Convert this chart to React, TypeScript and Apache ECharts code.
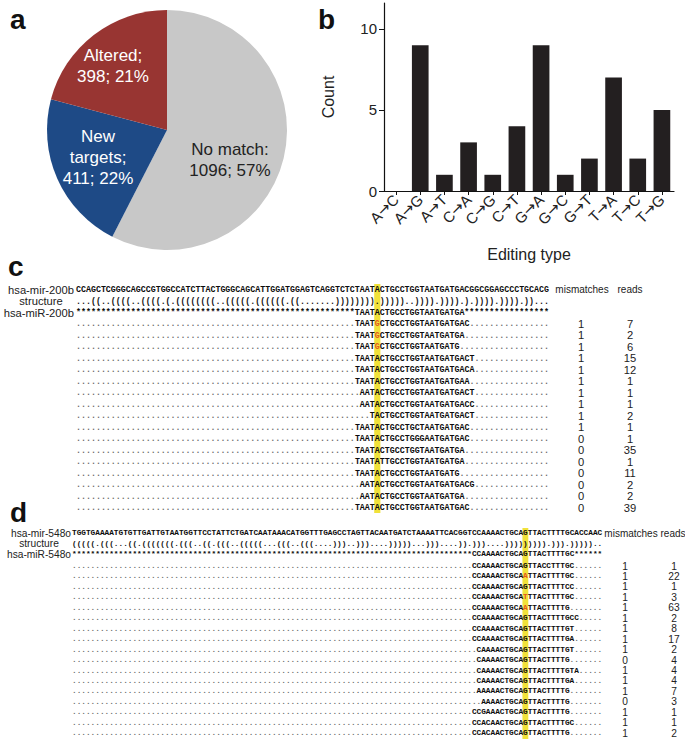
import React, { useEffect, useRef } from 'react';
import * as echarts from 'echarts';

// ---------- Panel a : pie ----------
const pieNames = ['No match', 'New targets', 'Altered'];
const pieValues = [1096, 411, 398];
const pieColors = ['#c8c8c8', '#1e4a86', '#983532'];
const pieLabelTexts = ['No match:\n1096; 57%', 'New\ntargets;\n411; 22%', 'Altered;\n398; 21%'];

// ---------- Panel b : bars ----------
const editTypes = ['A→C', 'A→G', 'A→T', 'C→A', 'C→G', 'C→T', 'G→A', 'G→C', 'G→T', 'T→A', 'T→C', 'T→G'];
const editCounts = [0, 9, 1, 3, 1, 4, 9, 1, 2, 7, 2, 5];
const countTicks = [0, 5, 10];

// ---------- Panel c : hsa-mir-200b ----------
const precursorC = 'CCAGCTCGGGCAGCCGTGGCCATCTTACTGGGCAGCATTGGATGGAGTCAGGTCTCTAATACTGCCTGGTAATGATGACGGCGGAGCCCTGCACG';
const structureC = '...((..((((..((((.(.((((((((..(((((.((((((.((.......)))))))).)))))..)))).)))).).)))).)))).))...';
const matureC = 'TAATACTGCCTGGTAATGATGA';
const matureStartC = 57;
const editColC = 61;
const readSeqsC = [
  'TAATGCTGCCTGGTAATGATGAC', 'TAATGCTGCCTGGTAATGATGA', 'TAATGCTGCCTGGTAATGATG',
  'TAATACTGCCTGGTAATGATGACT', 'TAATACTGCCTGGTAATGATGACA', 'TAATACTGCCTGGTAATGATGAA',
  'AATACTGCCTGGTAATGATGACT', 'AATACTGCCTGGTAATGATGACC', 'TACTGCCTGGTAATGATGACT',
  'TAATACTGCCTGCTAATGATGAC', 'TAATACTGCCTGGGAATGATGAC', 'TAATACTGCCTGGTAATGATGA',
  'TAATATTGCCTGGTAATGATGA', 'TAATACTGCCTGGTAATGATG', 'AATACTGCCTGGTAATGATGACG',
  'AATACTGCCTGGTAATGATGA', 'TAATACTGCCTGGTAATGATGAC',
];
const readStartsC = [57, 57, 57, 57, 57, 57, 58, 58, 60, 57, 57, 57, 57, 57, 58, 58, 57];
const mismatchesC = [1, 1, 1, 1, 1, 1, 1, 1, 1, 1, 0, 0, 0, 0, 0, 0, 0];
const readCountsC = [7, 2, 6, 15, 12, 1, 1, 1, 2, 1, 1, 35, 1, 11, 2, 2, 39];

// ---------- Panel d : hsa-mir-548o ----------
const precursorD = 'TGGTGAAAATGTGTTGATTGTAATGGTTCCTATTCTGATCAATAAACATGGTTTGAGCCTAGTTACAATGATCTAAAATTCACGGTCCAAAACTGCAGTTACTTTTGCACCAAC';
const structureD = '(((((.(((...((.(((((((.(((..((.(((..(((((...(((..(((....)))..)))....)))))...)))....)).)))....))))))))).))).)))))..';
const matureD = 'CCAAAACTGCAGTTACTTTTGC';
const matureStartD = 87;
const editColD = 98;
const readSeqsD = [
  'CCAAAACTGCAGTTACCTTTGC', 'CCAAAACTGCAATTACTTTTGC', 'CCAAAACTGCAGTTACTTTTCC',
  'CCAAAACTGCATTTACTTTTGC', 'CCAAAACTGCAATTACTTTTG', 'CCAAAACTGCAGTTACTTTTGCC',
  'CCAAAACTGCAGTTACTTTTGT', 'CCAAAACTGCAGTTACTTTTGA', 'CAAAACTGCAGTTACTTTTGT',
  'CAAAACTGCAGTTACTTTTG', 'CAAAACTGCAGTTACTTTTGTA', 'CAAAACTGCAGTTACTTTTGA',
  'AAAAACTGCAGTTACTTTTG', 'AAAACTGCAGTTACTTTTG', 'CCGAAACTGCAGTTACTTTTG',
  'CCACAACTGCAGTTACTTTTGC', 'CCACAACTGCAGTTACTTTTG',
];
const readStartsD = [87, 87, 87, 87, 87, 87, 87, 87, 88, 88, 88, 88, 88, 89, 87, 87, 87];
const mismatchesD = [1, 1, 1, 1, 1, 1, 1, 1, 1, 0, 1, 1, 1, 0, 1, 1, 1];
const readCountsD = [1, 22, 1, 3, 63, 2, 8, 17, 2, 4, 4, 4, 7, 3, 1, 1, 2];

const SANS = '"Liberation Sans", Arial, sans-serif';
const MONO = '"Liberation Mono", "DejaVu Sans Mono", monospace';

type Block = {
  name: string; miName: string; precursor: string; structure: string; mature: string; matureStart: number;
  editCol: number; seqs: string[]; starts: number[]; mm: number[]; counts: number[];
  x0: number; cw: number; yPre: number; dyHead: number; yRow0: number; dyRow: number;
  labelRight: number; structX: number; labelSize: number; numSize: number; mmX: number; rdX: number;
  mmHeadX: number; rdHeadX: number; hlTop: number; hlBottom: number;
};

function runsOf(row: string, cls: (i: number) => string) {
  const runs: { start: number; text: string; cls: string }[] = [];
  for (let i = 0; i < row.length; i++) {
    const c = cls(i);
    const last = runs[runs.length - 1];
    if (last && last.cls === c) last.text += row[i];
    else runs.push({ start: i, text: row[i], cls: c });
  }
  return runs;
}

const styleFor: Record<string, any> = {
  nt: { fill: '#0c0c0c', fontWeight: 'bold' },
  dot: { fill: '#6a6a6a', fontWeight: 'bold' },
  mm: { fill: '#e4561c', fontWeight: 'bold' },
  st: { fill: '#111', fontWeight: 'bold' },
};

function blockElements(b: Block): any[] {
  const els: any[] = [];
  const fs = b.cw / 0.6;
  const L = b.precursor.length;
  els.push({
    type: 'rect', silent: true, z: 0,
    shape: { x: b.x0 + (b.editCol - 1) * b.cw - 0.6, y: b.hlTop, width: b.cw + 1.2, height: b.hlBottom - b.hlTop },
    style: { fill: '#f1e23a' },
  });
  const addRow = (row: string, y: number, cls: (i: number) => string) => {
    runsOf(row, cls).forEach((r) => {
      els.push({
        type: 'text', silent: true, z: 2, x: b.x0 + r.start * b.cw, y,
        style: { text: r.text, fontFamily: MONO, fontSize: fs, lineHeight: fs, align: 'left', verticalAlign: 'middle', ...styleFor[r.cls] },
      });
    });
  };
  const yStruct = b.yPre + b.dyHead;
  const yStar = b.yPre + 2 * b.dyHead;
  addRow(b.precursor, b.yPre, () => 'nt');
  addRow(b.structure, yStruct, () => 'st');
  const starRow = '*'.repeat(b.matureStart - 1) + b.mature + '*'.repeat(L - (b.matureStart - 1) - b.mature.length);
  addRow(starRow, yStar, () => 'nt');
  const numStyle = { fontFamily: SANS, fontSize: b.numSize, lineHeight: b.numSize, fill: '#222', align: 'center', verticalAlign: 'middle' };
  b.seqs.forEach((s, k) => {
    const row = '.'.repeat(b.starts[k] - 1) + s + '.'.repeat(Math.max(0, L - (b.starts[k] - 1) - s.length));
    const y = b.yRow0 + k * b.dyRow;
    addRow(row, y, (i) => {
      if (row[i] === '.') return 'dot';
      if (i === b.editCol - 1 && row[i] !== b.precursor[i]) return 'mm';
      return 'nt';
    });
    els.push({ type: 'text', silent: true, x: b.mmX, y, style: { text: String(b.mm[k]), ...numStyle } });
    els.push({ type: 'text', silent: true, x: b.rdX, y, style: { text: String(b.counts[k]), ...numStyle } });
  });
  const lab = (text: string, x: number, y: number, align: string) => ({
    type: 'text', silent: true, x, y,
    style: { text, fontFamily: SANS, fontSize: b.labelSize, lineHeight: b.labelSize, fill: '#222', align, verticalAlign: 'middle' },
  });
  els.push(lab(b.name, b.labelRight, b.yPre, 'right'));
  els.push(lab('structure', b.structX, yStruct, 'center'));
  els.push(lab(b.miName, b.labelRight, yStar, 'right'));
  const head = (text: string, x: number) => ({
    type: 'text', silent: true, x, y: b.yPre,
    style: { text, fontFamily: SANS, fontSize: 10, lineHeight: 10, fill: '#222', align: 'center', verticalAlign: 'middle' },
  });
  els.push(head('mismatches', b.mmHeadX));
  els.push(head('reads', b.rdHeadX));
  return els;
}

const blockC: Block = {
  name: 'hsa-mir-200b', miName: 'hsa-miR-200b', precursor: precursorC, structure: structureC, mature: matureC,
  matureStart: matureStartC, editCol: editColC, seqs: readSeqsC, starts: readStartsC, mm: mismatchesC, counts: readCountsC,
  x0: 76, cw: 4.98, yPre: 289.5, dyHead: 11.5, yRow0: 323.5, dyRow: 11.53,
  labelRight: 74, structX: 41, labelSize: 11.2, numSize: 11.2, mmX: 581, rdX: 630, mmHeadX: 582, rdHeadX: 630, hlTop: 284, hlBottom: 513,
};
const blockD: Block = {
  name: 'hsa-mir-548o', miName: 'hsa-miR-548o', precursor: precursorD, structure: structureD, mature: matureD,
  matureStart: matureStartD, editCol: editColD, seqs: readSeqsD, starts: readStartsD, mm: mismatchesD, counts: readCountsD,
  x0: 72, cw: 4.65, yPre: 533, dyHead: 10.5, yRow0: 566, dyRow: 10.45,
  labelRight: 71, structX: 39, labelSize: 10.2, numSize: 10.2, mmX: 625, rdX: 674, mmHeadX: 631, rdHeadX: 673, hlTop: 528, hlBottom: 739,
};

export default function App() {
  const ref = useRef<HTMLDivElement>(null);
  useEffect(() => {
    document.body.style.margin = '0';
    if (!ref.current) return;
    const chart = echarts.init(ref.current, undefined, { renderer: 'svg' });

    const letter = (t: string, x: number, y: number) => ({
      type: 'text', silent: true, x, y,
      style: { text: t, fontFamily: SANS, fontWeight: 'bold', fontSize: 28, fill: '#111', align: 'left', verticalAlign: 'bottom' },
    });
    const pieLabelPos = [[230, 160], [98, 157], [113, 66]];
    const pieLabelFill = ['#222', '#fff', '#fff'];

    const graphics: any[] = [
      letter('a', 10, 33),
      letter('b', 318, 33),
      letter('c', 8, 280),
      letter('d', 10, 526),
      ...pieLabelTexts.map((t, i) => ({
        type: 'text', silent: true, z: 10, x: pieLabelPos[i][0], y: pieLabelPos[i][1],
        style: { text: t, fontFamily: SANS, fontSize: 17, lineHeight: 21, fill: pieLabelFill[i], align: 'center', verticalAlign: 'middle' },
      })),
      ...blockElements(blockC),
      ...blockElements(blockD),
    ];

    chart.setOption({
      animation: false,
      backgroundColor: '#fff',
      grid: { left: 384, top: 3, width: 290, height: 188 },
      xAxis: {
        type: 'category', data: editTypes,
        axisLine: { lineStyle: { color: '#111', width: 1.2 } },
        axisTick: { show: true, alignWithLabel: true, length: 4, lineStyle: { color: '#111' } },
        axisLabel: {
          rotate: 45, color: '#222', margin: 6, interval: 0,
          formatter: (v: string) => {
            const [a, b] = v.split('→');
            return `{l|${a}}{r|→}{l|${b}}`;
          },
          rich: {
            l: { fontFamily: SANS, fontSize: 15, color: '#222' },
            r: { fontFamily: '"DejaVu Sans"', fontSize: 15, color: '#222' },
          },
        },
        name: 'Editing type', nameLocation: 'middle', nameGap: 55,
        nameTextStyle: { fontSize: 16, color: '#222', fontFamily: SANS },
      },
      yAxis: {
        type: 'value', min: 0, max: 11.6, interval: 5,
        axisLine: { show: true, lineStyle: { color: '#111', width: 1.2 } },
        axisTick: { show: true, length: 5, lineStyle: { color: '#111' }, customValues: countTicks },
        axisLabel: { fontSize: 15, color: '#222', fontFamily: SANS, margin: 7, customValues: countTicks,
          formatter: (v: number) => (countTicks.includes(v) ? String(v) : '') },
        splitLine: { show: false },
        name: 'Count', nameLocation: 'middle', nameGap: 48, nameRotate: 90,
        nameTextStyle: { fontSize: 16, color: '#222', fontFamily: SANS },
      },
      series: [
        {
          type: 'pie', center: [167, 130], radius: 120, startAngle: 90, clockwise: true,
          label: { show: false }, labelLine: { show: false }, silent: true,
          data: pieNames.map((n, i) => ({ name: n, value: pieValues[i], itemStyle: { color: pieColors[i] } })),
        },
        {
          type: 'bar', data: editCounts, barCategoryGap: '31%', silent: true,
          itemStyle: { color: '#231f20' },
        },
      ],
      graphic: { elements: graphics },
    });
    return () => chart.dispose();
  }, []);
  return <div ref={ref} style={{ width: 685, height: 748 }} />;
}
